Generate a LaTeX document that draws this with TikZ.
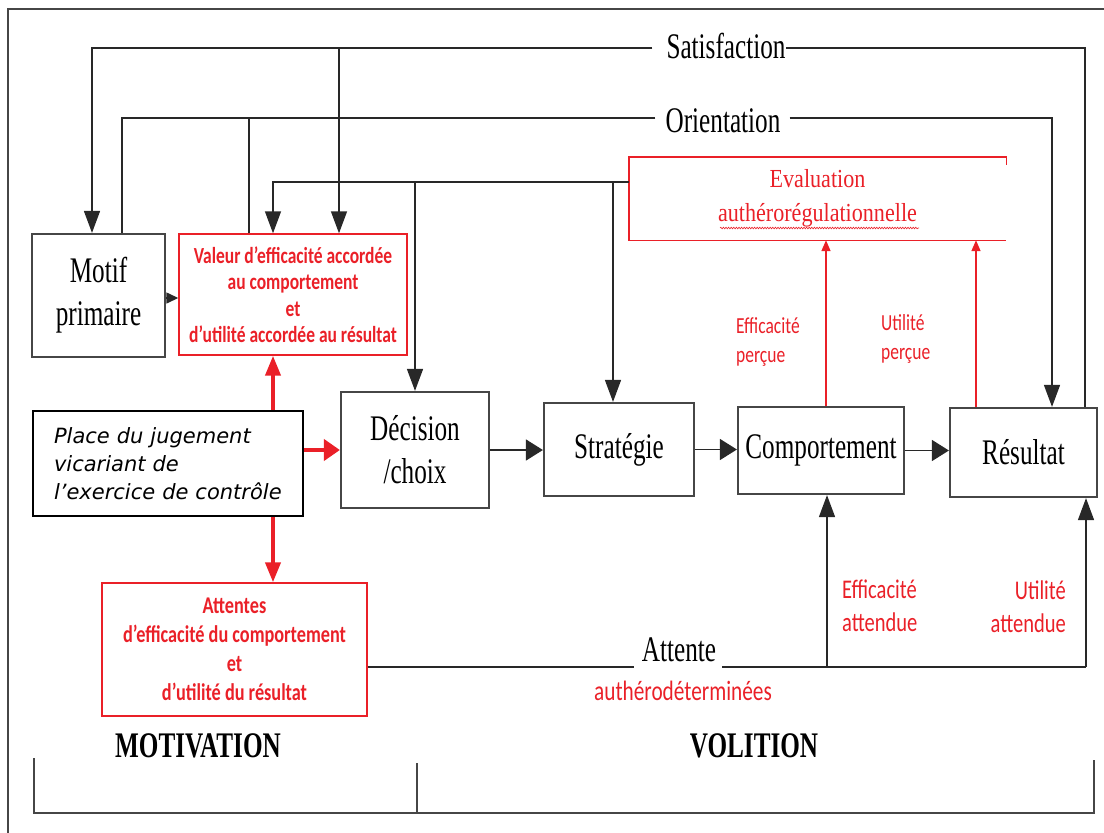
\documentclass[tikz,border=0pt]{standalone}
\usepackage{fontspec}
\setmainfont{Liberation Serif}
\newfontfamily\tnr[FakeStretch=0.70]{Liberation Serif}
\newfontfamily\tnrw[FakeStretch=0.85]{Liberation Serif}
\newfontfamily\calib[FakeStretch=0.76]{Carlito}
\newfontfamily\verd{DejaVu Sans}
\usetikzlibrary{positioning, calc, arrows.meta, decorations.pathmorphing}

\definecolor{myred}{RGB}{234,32,40}
\definecolor{ink}{RGB}{40,40,40}
\definecolor{boxgray}{RGB}{70,70,70}

\tikzset{
  line/.style={draw=ink, line width=1.4pt},
  box/.style={draw=boxgray, line width=2.2pt, inner sep=0pt, align=center, font=\tnr\fontsize{36}{43}\selectfont},
  redbox/.style={draw=myred, line width=1.4pt, inner sep=0pt, align=center, text=myred},
  lbl/.style={inner sep=0pt, text=myred, font=\calib\fontsize{23}{29}\selectfont},
  varr/.style={line, -{Triangle[length=22pt,width=16pt]}},
  harr/.style={line, -{Triangle[length=17pt,width=21pt]}},
  redv/.style={draw=myred, line width=4pt, -{Triangle[length=20pt,width=15pt]}},
  redh/.style={draw=myred, line width=4pt, -{Triangle[length=16pt,width=21pt]}},
  redthin/.style={draw=myred, line width=1.6pt, -{Triangle[length=11pt,width=9pt]}}
}

\begin{document}
\begin{tikzpicture}[x=1pt, y=-1pt]
\useasboundingbox (0,0) rectangle (1104,833);

% outer frame
\draw[draw=boxgray, line width=1.5pt] (8,850) -- (8,9) -- (1120,9);

% boxes
\node[box, minimum width=133, minimum height=123] (motif) at (98.5,295.5) {Motif\\primaire};
\node[redbox, minimum width=228, minimum height=121, font=\calib\bfseries\fontsize{23}{26.5}\selectfont] (valeur) at (293,294.5)
  {Valeur d’efficacité accordée\\au comportement\\et\\d’utilité accordée au résultat};
\node[box, minimum width=148, minimum height=116] (decision) at (415,450) {Décision\\/choix};
\node[box, draw=black, text width=228, inner xsep=21, minimum height=105, align=left,
  font=\verd\itshape\fontsize{21}{28}\selectfont] (place) at (168,463.5)
  {Place du jugement\\vicariant de\\l’exercice de contrôle};
\node[box, minimum width=150, minimum height=93] (strategie) at (619,449.5) {Stratégie};
\node[box, minimum width=166, minimum height=87] (comport) at (821,450.5) {Comportement};
\node[box, minimum width=147, minimum height=89] (resultat) at (1023.5,452.5) {Résultat};
\node[redbox, minimum width=265, minimum height=133, font=\calib\bfseries\fontsize{24}{29}\selectfont] (attentes) at (234.5,649.5)
  {Attentes\\d’efficacité du comportement\\et\\d’utilité du résultat};
\node[inner sep=0pt, minimum width=377, minimum height=83, align=center, text=myred,
  font=\tnrw\fontsize{26}{34}\selectfont] (eval) at (817.5,198.5) {Evaluation\\authérorégulationnelle};

% open red frame of the evaluation
\draw[draw=myred, line width=1.4pt] ([yshift=-8pt]eval.north east) -- (eval.north east) -- (eval.north west)
  -- (eval.south west) -- (eval.south east);
\draw[myred, line width=0.6pt, decorate, decoration={snake, amplitude=0.8pt, segment length=2.6pt}]
  (720,228) -- (919,228);

% plain labels
\node[inner sep=0pt, font=\tnr\fontsize{36}{43}\selectfont] (sat) at (726,46) {Satisfaction};
\node[inner sep=0pt, font=\tnr\fontsize{36}{43}\selectfont] (orient) at (723,121) {Orientation};
\node[inner sep=0pt, font=\tnr\fontsize{36}{43}\selectfont] (attente) at (679,650) {Attente};
\node[lbl, font=\calib\fontsize{28}{33}\selectfont] (autodet) at (683,691) {authérodéterminées};
\node[lbl, anchor=west, align=left] (effp) at (736,342) {Efficacité\\perçue};
\node[lbl, anchor=west, align=left] (utilp) at (881,339) {Utilité\\perçue};
\node[lbl, anchor=west, align=left, font=\calib\fontsize{27}{33}\selectfont] (effa) at (842,606) {Efficacité\\attendue};
\node[lbl, anchor=east, align=right, font=\calib\fontsize{27}{33}\selectfont] (utila) at (1066,607) {Utilité\\attendue};
\node[inner sep=0pt, font=\tnr\bfseries\fontsize{36}{43}\selectfont] (motiv) at (198,746) {MOTIVATION};
\node[inner sep=0pt, font=\tnr\bfseries\fontsize{36}{43}\selectfont] (volit) at (754,746) {VOLITION};

% satisfaction loop
\coordinate (satL) at (92,48);
\coordinate (satR) at (1085,48);
\coordinate (satV) at (339,48);
\draw[line] (resultat.north -| satR) -- (satR) -- (sat.east |- satR);
\draw[varr] ([xshift=-14pt]sat.west |- satL) -- (satL) -- (satL |- motif.north);
\draw[varr] (satV) -- (satV |- valeur.north);

% orientation loop
\coordinate (oriL) at (122,118);
\coordinate (oriR) at (1052,118);
\coordinate (oriV) at (249,118);
\draw[line] ([xshift=-10pt]orient.west |- oriL) -- (oriL) -- (oriL |- motif.north);
\draw[line] (oriV |- valeur.north) -- (oriV);
\draw[varr] ([xshift=9pt]orient.east |- oriR) -- (oriR) -- (oriR |- resultat.north);

% feedback of the evaluation
\coordinate (fbL) at (273,182);
\coordinate (fbS) at (613,182);
\draw[varr] (eval.west |- fbL) -- (fbL) -- (fbL |- valeur.north);
\draw[varr] (fbL -| decision.north) -- (decision.north);
\draw[varr] (fbS) -- (fbS |- strategie.north);

% main chain
\draw[line, -{Triangle[length=12pt,width=11pt]}] (motif.east |- 0,298) -- (valeur.west |- 0,298);
\draw[harr] (decision.east) -- (strategie.west |- decision.east);
\draw[harr] (strategie.east) -- (comport.west |- strategie.east);
\draw[harr] (comport.east) -- (resultat.west |- comport.east);

% vicarious judgement
\coordinate (redx) at (273,411);
\draw[redv] (redx |- place.north) -- (redx |- valeur.south);
\draw[redv] (redx |- place.south) -- (redx |- attentes.north);
\draw[redh] (place.east |- decision.west) -- (decision.west);

% perceived efficacy and utility
\draw[redthin] ([xshift=5pt]comport.north) -- ([xshift=5pt]comport.north |- eval.south);
\draw[redthin] ([xshift=-47.5pt]resultat.north) -- ([xshift=-47.5pt]resultat.north |- eval.south);

% expectations
\coordinate (attR) at (1086,667);
\coordinate (attC) at (827,667);
\draw[line] (attentes.east |- attR) -- ([xshift=-8pt]attente.west |- attR);
\draw[line] ([xshift=6pt]attente.east |- attR) -- (attR);
\draw[varr] (attR) -- (attR |- resultat.south);
\draw[varr] (attC) -- (attC |- comport.south);

% bracket
\draw[draw=boxgray, line width=1.4pt] (34,758) -- (34,813) -- (1094,813) -- (1094,760);
\draw[draw=boxgray, line width=1.4pt] (417,763) -- (417,813);
\end{tikzpicture}
\end{document}
